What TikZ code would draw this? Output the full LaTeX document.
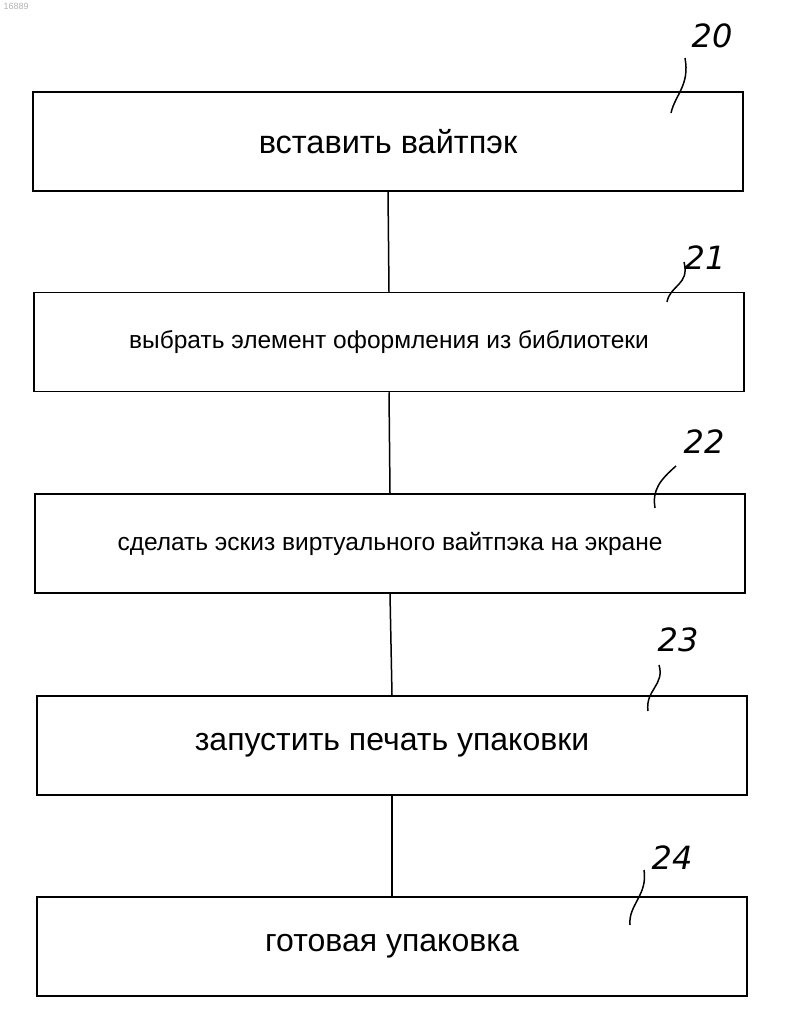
\documentclass[tikz,border=0pt]{standalone}
\usepackage{fontspec}
\setmainfont{Liberation Sans}
\newfontfamily\handfont{DejaVu Sans}
\tikzset{
    stepbox/.style={draw,line width=1.5pt,minimum width=710pt,minimum height=99pt,inner sep=0pt},
    refnum/.style={font=\handfont\itshape\fontsize{32}{32}\selectfont},
    leader/.style={line width=1.5pt}
}
\begin{document}
\begin{tikzpicture}[x=1pt,y=-1pt]
    \useasboundingbox (0,0) rectangle (785,1016);
    \node[anchor=north west,text=gray!60,font=\fontsize{9}{9}\selectfont] at (0,0) (id) {16889};

    % Step boxes
    \node[stepbox,font=\fontsize{32.5}{33}\selectfont] at (388,141.5) (s20) {вставить вайтпэк};
    \node[stepbox,font=\fontsize{24.5}{25}\selectfont] at (389,342) (s21) {выбрать элемент оформления из библиотеки};
    \node[stepbox,font=\fontsize{24.5}{25}\selectfont] at (390,543.5) (s22) {сделать эскиз виртуального вайтпэка на экране};
    \node[stepbox,font=\fontsize{32}{33}\selectfont] at (392,745.5) (s23) {запустить печать упаковки};
    \node[stepbox,font=\fontsize{32}{33}\selectfont] at (392,946.5) (s24) {готовая упаковка};

    % Connectors
    \draw[line width=1.5pt] (s20.south) -- (s21.north);
    \draw[line width=1.5pt] (s21.south) -- (s22.north);
    \draw[line width=1.5pt] (s22.south) -- (s23.north);
    \draw[line width=1.5pt] (s23.south) -- (s24.north);

    % Reference numbers
    \node[refnum] at (712,36) (n20) {20};
    \node[refnum] at (705,258) (n21) {21};
    \node[refnum] at (704,442) (n22) {22};
    \node[refnum] at (678,640) (n23) {23};
    \node[refnum] at (672,858) (n24) {24};
    \coordinate (e20) at (671,113);
    \coordinate (e21) at (667,302);
    \coordinate (e22) at (655,508);
    \coordinate (e23) at (648,711);
    \coordinate (e24) at (630,925);
    \draw[leader] (685,58) .. controls (690,85) and (675,95) .. (e20);
    \draw[leader] (684,262) .. controls (690,285) and (670,285) .. (e21);
    \draw[leader] (676,466) .. controls (660,480) and (652,490) .. (e22);
    \draw[leader] (659,665) .. controls (665,685) and (645,690) .. (e23);
    \draw[leader] (644,870) .. controls (648,895) and (628,905) .. (e24);
\end{tikzpicture}
\end{document}
